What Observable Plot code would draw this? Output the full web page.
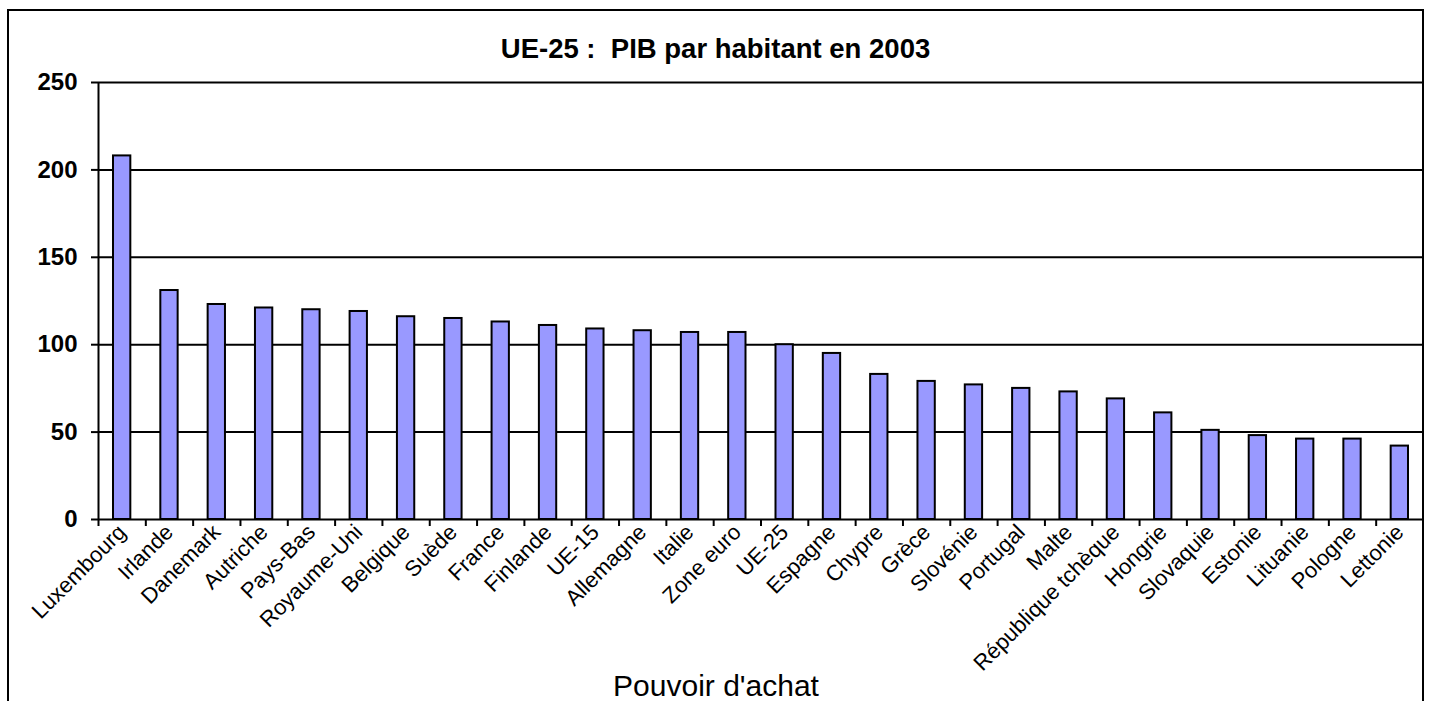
<!DOCTYPE html>
<html><head><meta charset="utf-8">
<script src="https://cdn.jsdelivr.net/npm/d3@7"></script>
<script src="https://cdn.jsdelivr.net/npm/@observablehq/plot@0.6"></script>
<style>
html,body{margin:0;padding:0;background:#fff;overflow:hidden}
#wrap{position:relative;width:1431px;height:701px;font-family:"Liberation Sans",Arial,sans-serif;color:#000}
#frame{position:absolute;left:7px;top:9px;width:1417px;height:760px;border:2px solid #000;box-sizing:border-box}
#title{position:absolute;left:0;top:33px;width:1431px;text-align:center;font-weight:bold;font-size:27.5px;line-height:31px;white-space:pre}
#chart{position:absolute;left:0;top:0}
</style></head>
<body><div id="wrap"><div id="frame"></div><div id="title"></div><div id="chart"></div></div>
<script>
const chartTitle = "UE-25 :  PIB par habitant en 2003";
const xTitle = "Pouvoir d'achat";
const categories = ["Luxembourg","Irlande","Danemark","Autriche","Pays-Bas","Royaume-Uni","Belgique","Suède","France","Finlande","UE-15","Allemagne","Italie","Zone euro","UE-25","Espagne","Chypre","Grèce","Slovénie","Portugal","Malte","République tchèque","Hongrie","Slovaquie","Estonie","Lituanie","Pologne","Lettonie"];
const values = [208,131,123,121,120,119,116,115,113,111,109,108,107,107,100,95,83,79,77,75,73,69,61,51,48,46,46,42];
const yTicks = [0,50,100,150,200,250];

document.getElementById("title").textContent = chartTitle;
const data = categories.map((c,i)=>({pays:c, valeur:values[i]}));
const W=1431, H=701, mL=98, mR=8, mT=82, mB=182;
const bw = (W-mL-mR)/categories.length;
const font = '"Liberation Sans", Arial, sans-serif';

const plot = Plot.plot({
  width:W, height:H, marginLeft:mL, marginRight:mR, marginTop:mT, marginBottom:mB,
  style:{fontFamily:font, color:"#000", background:"transparent", overflow:"visible"},
  x:{domain:categories, padding:0, round:false, axis:null},
  y:{domain:[0,250], axis:null},
  marks:[
    Plot.ruleY(yTicks.slice(1), {stroke:"#000", strokeWidth:2}),
    Plot.barY(data, {x:"pays", y:"valeur", fill:"#9999FF", stroke:"#000", strokeWidth:2, insetLeft:15, insetRight:15}),
    Plot.ruleY([0], {stroke:"#000", strokeWidth:2}),
    Plot.ruleX([categories[0]], {dx:-bw/2, stroke:"#000", strokeWidth:2}),
    Plot.ruleX(categories, {x:d=>d, dx:-bw/2, y1:0, y2:0, insetTop:0, insetBottom:-7, stroke:"#000", strokeWidth:2}),
    Plot.axisY({anchor:"left", ticks:yTicks, tickSize:7, tickPadding:14, fontSize:24, fontWeight:"bold", strokeWidth:2, label:null, tickFormat:d=>String(d)}),
    Plot.axisX({anchor:"bottom", tickRotate:-45, tickSize:0, tickPadding:9, fontSize:22, label:null}),
    Plot.text([xTitle], {frameAnchor:"bottom", lineAnchor:"bottom", dy:176, dx:-45, fontSize:30})
  ]
});
document.getElementById("chart").appendChild(plot);
</script>
</body></html>
